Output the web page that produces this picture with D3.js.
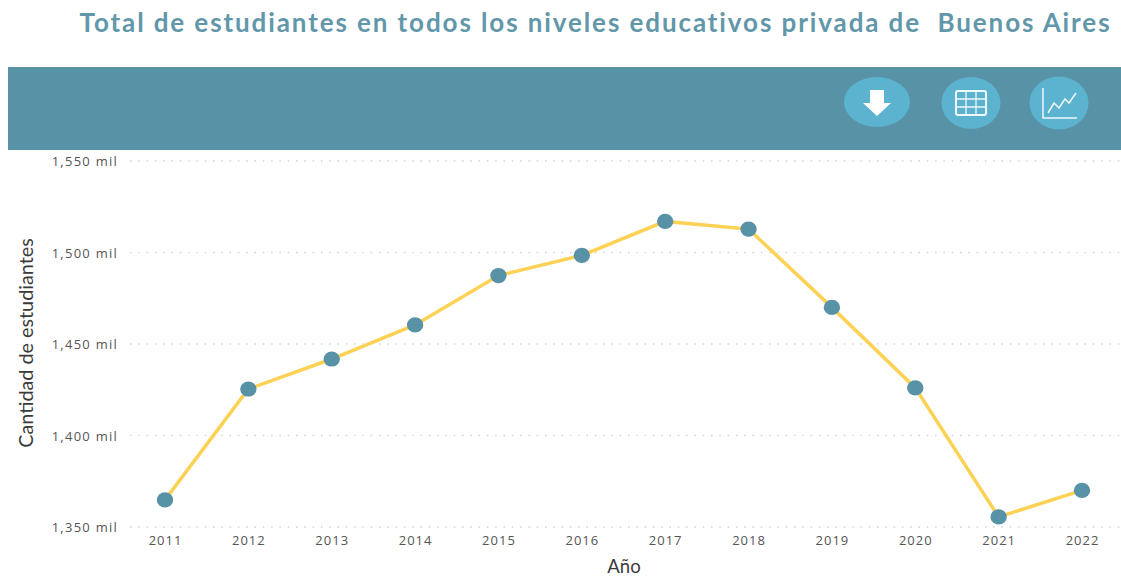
<!DOCTYPE html>
<html><head><meta charset="utf-8">
<script src="https://cdn.jsdelivr.net/npm/d3@7"></script>
<style>html,body{margin:0;padding:0;background:#fff;overflow:hidden}svg{display:block}text{font-family:"Open Sans",sans-serif}</style>
</head><body><svg id="c" width="1121" height="578"></svg>
<script>
const titleText = "Total de estudiantes en todos los niveles educativos privada de  Buenos Aires";
const years = ["2011","2012","2013","2014","2015","2016","2017","2018","2019","2020","2021","2022"];
const students = [1364.8,1425.4,1441.8,1460.4,1487.4,1498.4,1517,1512.8,1470,1426,1355.5,1370];
const yTicks = [1350,1400,1450,1500,1550];
const yAxisLabel = "Cantidad de estudiantes";
const xAxisLabel = "Año";

const svg = d3.select("#c");
const x = d3.scalePoint().domain(years).range([165,1082]);
const y = d3.scaleLinear().domain([1350,1550]).range([527,161]);
const tickCol = "#555";

svg.append("text").attr("x",595.5).attr("y",32).attr("text-anchor","middle")
  .style("white-space","pre")
  .attr("font-size",26).attr("font-weight",700)
  .attr("letter-spacing",1.9).attr("fill","#6297aa").text(titleText)
  .style("font-family","Lato, sans-serif");

svg.append("rect").attr("x",8).attr("y",67).attr("width",1113).attr("height",83).attr("fill","#5892a6");

// buttons
const btn = "#5bb3cf";
svg.append("ellipse").attr("cx",877).attr("cy",102).attr("rx",33).attr("ry",25).attr("fill",btn);
svg.append("ellipse").attr("cx",971).attr("cy",103).attr("rx",29.5).attr("ry",26).attr("fill",btn);
svg.append("ellipse").attr("cx",1059).attr("cy",103).attr("rx",29.5).attr("ry",26.5).attr("fill",btn);
svg.append("path").attr("fill","#fff").attr("d","M870 90h14v13h7l-14 13l-14-13h7z");
const g2 = svg.append("g").attr("stroke","#eef8fb").attr("fill","none");
g2.append("rect").attr("x",956).attr("y",91).attr("width",30).attr("height",24).attr("rx",2).attr("stroke-width",2);
g2.append("path").attr("stroke-width",1.3).attr("d","M966 91v24M976 91v24M956 99h30M956 107h30");
const g3 = svg.append("g").attr("stroke","#eef8fb").attr("fill","none");
g3.append("path").attr("stroke-width",1.5).attr("d","M1043 88v30h34");
g3.append("path").attr("stroke-width",1.5).attr("d","M1048 113l6-10l5 5l6-9l4 4l7-10");

const gridG = svg.append("g");
yTicks.forEach(t=>{
  gridG.append("line").attr("x1",130).attr("x2",1121).attr("y1",y(t)).attr("y2",y(t))
    .attr("stroke","#d4d4d4").attr("stroke-width",1.5).attr("stroke-dasharray","1.5 6.8");
});

const yAxis = svg.append("g").attr("transform","translate(118,0.5)")
  .call(d3.axisLeft(y).tickValues(yTicks).tickSize(0).tickPadding(0).tickFormat(d=>d3.format(",")(d)+" mil"));
yAxis.select(".domain").remove();
yAxis.selectAll("text").attr("font-family","'Open Sans',sans-serif").attr("font-size",13).attr("fill",tickCol).attr("letter-spacing",1.25);

const xAxis = svg.append("g").attr("transform","translate(0,536)")
  .call(d3.axisBottom(x).tickSize(0).tickPadding(0));
xAxis.select(".domain").remove();
xAxis.selectAll("text").attr("font-family","'Open Sans',sans-serif").attr("font-size",13).attr("fill",tickCol).attr("letter-spacing",1);

const line = d3.line().x((d,i)=>x(years[i])).y(d=>y(d));
svg.append("path").datum(students).attr("d",line).attr("fill","none").attr("stroke","#fdd154").attr("stroke-width",3.5);
svg.selectAll("ellipse.pt").data(students).join("ellipse").attr("class","pt")
  .attr("cx",(d,i)=>x(years[i])).attr("cy",d=>y(d)).attr("rx",8.2).attr("ry",7.6).attr("fill","#5892a6");

svg.append("text").attr("transform","translate(33,343) rotate(-90)").attr("text-anchor","middle")
  .style("font-family","Lato, sans-serif").attr("font-size",19.8).attr("fill","#3a3a3a").text(yAxisLabel);
svg.append("text").attr("x",624).attr("y",573).attr("text-anchor","middle")
  .style("font-family","Lato, sans-serif").attr("font-size",18.5).attr("fill","#3a3a3a").text(xAxisLabel);
</script></body></html>
